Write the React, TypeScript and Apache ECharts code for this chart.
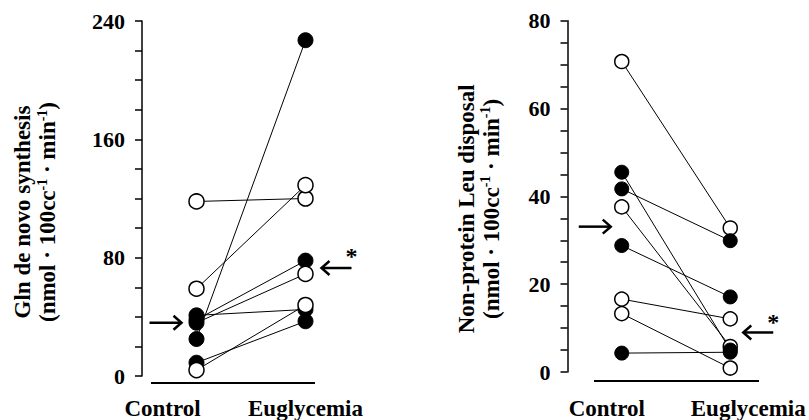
import React, { useEffect, useRef } from 'react';
import * as echarts from 'echarts';

// ---------- data ----------
const categories = ['Control', 'Euglycemia'];

// Left panel: Gln de novo synthesis (one entry per subject)
const glnControl = [118, 59, 25, 41, 38, 36, 9, 4];
const glnEuglycemia = [120, 129, 227, 45, 78, 69, 37, 48];
const glnControlFilled = [false, false, true, true, true, true, true, false];
const glnEuglycemiaFilled = [false, false, true, true, true, false, true, false];
const glnMeans = [36, 73];
const glnTickLabels = [0, 80, 160, 240];

// Right panel: Non-protein Leu disposal
const leuControl = [70.7, 45.5, 41.7, 37.6, 28.8, 16.6, 13.3, 4.3];
const leuEuglycemia = [32.8, 5, 29.9, 5.8, 17.1, 12.1, 0.9, 4.5];
const leuControlFilled = [false, true, true, false, true, false, false, true];
const leuEuglycemiaFilled = [false, true, true, false, true, false, false, true];
const leuMeans = [33.1, 9];
const leuTickLabels = [0, 20, 40, 60, 80];

const FONT = "'Liberation Serif', 'Times New Roman', serif";

function panelSeries(
  idx: number,
  ctrl: number[],
  eug: number[],
  cf: boolean[],
  ef: boolean[],
  size: number,
  openOnTop: boolean
) {
  const lines = ctrl.map((c, i) => ({
    type: 'line',
    xAxisIndex: idx,
    yAxisIndex: idx,
    data: [
      [0, c],
      [1, eug[i]],
    ],
    symbol: 'none',
    silent: true,
    lineStyle: { color: '#000', width: 1 },
    z: 2,
  }));
  const filled: number[][] = [];
  const open: number[][] = [];
  ctrl.forEach((c, i) => (cf[i] ? filled : open).push([0, c]));
  eug.forEach((e, i) => (ef[i] ? filled : open).push([1, e]));
  return [
    ...lines,
    {
      type: 'scatter',
      xAxisIndex: idx,
      yAxisIndex: idx,
      data: filled,
      symbol: 'circle',
      symbolSize: size,
      itemStyle: { color: '#000', borderColor: '#000', borderWidth: 1, opacity: 1 },
      z: openOnTop ? 3 : 4,
    },
    {
      type: 'scatter',
      xAxisIndex: idx,
      yAxisIndex: idx,
      data: open,
      symbol: 'circle',
      symbolSize: size,
      itemStyle: { color: '#fff', borderColor: '#000', borderWidth: 1.5, opacity: 1 },
      z: openOnTop ? 4 : 3,
    },
  ];
}

const richTitle = {
  t: { fontFamily: FONT, fontWeight: 'bold', fontSize: 23, color: '#000', lineHeight: 25 },
  s: { fontFamily: FONT, fontWeight: 'bold', fontSize: 14, color: '#000', lineHeight: 25, verticalAlign: 'top' },
};

function yAxisCfg(idx: number, max: number, interval: number, labels: number[], title: string, gap: number, shift: number) {
  return {
    type: 'value',
    gridIndex: idx,
    min: 0,
    max,
    interval,
    axisLine: { show: true, lineStyle: { color: '#000', width: 1.5 } },
    axisTick: { show: true, inside: false, length: 7, lineStyle: { color: '#000', width: 1.5 } },
    splitLine: { show: false },
    axisLabel: {
      margin: 17,
      fontFamily: FONT,
      fontWeight: 'bold',
      fontSize: 22,
      color: '#000',
      formatter: (v: number) => (labels.includes(v) ? String(v) : ''),
    },
    name:
      '{t|' + title + '}\n{t|(nmol · 100cc}{s|-1}{t| · min}{s|-1}{t|)}',
    nameLocation: 'middle',
    nameRotate: 90,
    nameGap: gap,
    nameTextStyle: { rich: richTitle, padding: [0, shift, 0, 0], lineHeight: 25 },
  };
}

function xAxisCfg(idx: number, margin: number, ctrlPad: number, eugPad: number) {
  return {
    type: 'category',
    gridIndex: idx,
    data: categories,
    boundaryGap: true,
    axisLine: { show: false },
    axisTick: { show: false },
    splitLine: { show: false },
    axisLabel: {
      margin,
      interval: 0,
      formatter: (v: string) => (v === 'Control' ? '{c|' + v + '}' : '{e|' + v + '}'),
      rich: {
        c: { fontFamily: FONT, fontWeight: 'bold', fontSize: 23, color: '#000', padding: [0, ctrlPad, 0, 0] },
        e: { fontFamily: FONT, fontWeight: 'bold', fontSize: 23, color: '#000', padding: [0, 0, 0, eugPad] },
      },
    },
  };
}

function arrow(tipX: number, y: number, len: number, dir: number) {
  // dir = 1 pointing right, -1 pointing left
  const tail = tipX - dir * len;
  return {
    type: 'group',
    silent: true,
    children: [
      { type: 'line', shape: { x1: tail, y1: y, x2: tipX - dir * 1, y2: y }, style: { stroke: '#000', lineWidth: 2.5 } },
      {
        type: 'polyline',
        shape: { points: [[tipX - dir * 8, y - 7], [tipX, y], [tipX - dir * 8, y + 7]] },
        style: { stroke: '#000', lineWidth: 2.5, fill: 'none' },
      },
    ],
  };
}

export default function App() {
  const ref = useRef<HTMLDivElement>(null);
  useEffect(() => {
    if (!ref.current) return;
    const chart = echarts.init(ref.current, null, { renderer: 'svg' });
    chart.setOption({
      animation: false,
      backgroundColor: '#fff',
      grid: [
        { left: 142, top: 21, width: 218, height: 355 },
        { left: 567.5, top: 20.7, width: 217, height: 351.6 },
      ],
      xAxis: [xAxisCfg(0, 21, 68, 0), xAxisCfg(1, 25, 30, 36)],
      yAxis: [
        yAxisCfg(0, 240, 20, glnTickLabels, 'Gln de novo synthesis', 82, 27),
        yAxisCfg(1, 80, 5, leuTickLabels, 'Non-protein Leu disposal', 64, 25),
      ],
      series: [
        ...panelSeries(0, glnControl, glnEuglycemia, glnControlFilled, glnEuglycemiaFilled, 15, true),
        ...panelSeries(1, leuControl, leuEuglycemia, leuControlFilled, leuEuglycemiaFilled, 14, false),
      ],
    });

    const p = (g: number, c: number, v: number) => chart.convertToPixel({ gridIndex: g }, [c, v]) as number[];
    const gC = p(0, 0, glnMeans[0]);
    const gE = p(0, 1, glnMeans[1]);
    const lC = p(1, 0, leuMeans[0]);
    const lE = p(1, 1, leuMeans[1]);
    const g0 = p(0, 0, 0);
    const l0 = p(1, 0, 0);

    chart.setOption({
      graphic: [
        { type: 'line', silent: true, shape: { x1: 151, y1: g0[1] + 7, x2: 315, y2: g0[1] + 7 }, style: { stroke: '#000', lineWidth: 2 } },
        { type: 'line', silent: true, shape: { x1: 594, y1: l0[1] + 9, x2: 759, y2: l0[1] + 9 }, style: { stroke: '#000', lineWidth: 2 } },
        arrow(gC[0] - 15, gC[1], 32, 1),
        arrow(gE[0] + 16, gE[1], 30, -1),
        arrow(lC[0] - 11, lC[1], 32, 1),
        arrow(lE[0] + 13, lE[1], 30, -1),
        {
          type: 'text',
          silent: true,
          x: gE[0] + 46,
          y: gE[1] - 12,
          style: { text: '*', fontFamily: FONT, fontWeight: 'bold', fontSize: 24, fill: '#000', align: 'center', verticalAlign: 'middle' },
        },
        {
          type: 'text',
          silent: true,
          x: lE[0] + 43,
          y: lE[1] - 10,
          style: { text: '*', fontFamily: FONT, fontWeight: 'bold', fontSize: 24, fill: '#000', align: 'center', verticalAlign: 'middle' },
        },
      ],
    });

    return () => chart.dispose();
  }, []);
  return <div ref={ref} style={{ position: 'fixed', left: 0, top: 0, width: 809, height: 420, background: '#fff' }} />;
}
